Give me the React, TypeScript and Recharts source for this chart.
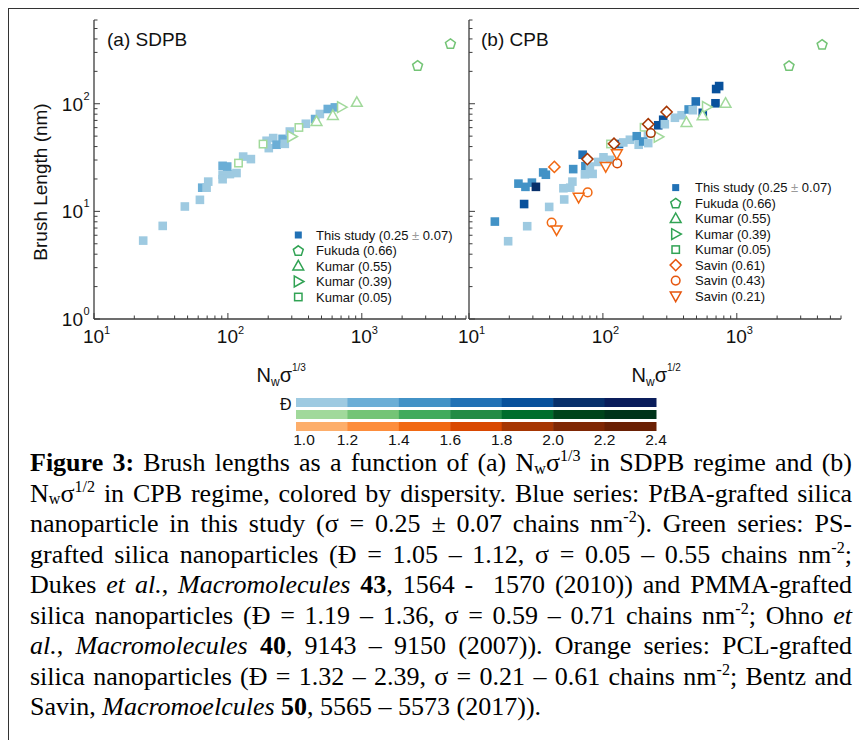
import React from 'react';
import { ScatterChart, Scatter, XAxis, YAxis } from 'recharts';

const SANS = '"Liberation Sans", Arial, sans-serif';
const SERIF = '"Liberation Serif", "Times New Roman", serif';
const AXIS = '#3c3c3c';

// dispersity colour scales (bins 1.0-1.2, ..., 2.2-2.4)
const D_TICKS = ['1.0', '1.2', '1.4', '1.6', '1.8', '2.0', '2.2', '2.4'];
const BLUES = ['#9ecae1', '#6baed6', '#4292c6', '#2171b5', '#08519c', '#08306b', '#0a1d5b'];
const GREENS = ['#a1d99b', '#74c476', '#41ab5d', '#238b45', '#006d2c', '#00441b', '#00341a'];
const ORANGES = ['#fdae6b', '#fd8d3c', '#f16913', '#d94801', '#a63603', '#7f2704', '#6a2004'];

const X_TICKS = [10, 20, 30, 40, 50, 60, 70, 80, 90, 100, 200, 300, 400, 500, 600, 700, 800, 900, 1000, 2000, 3000, 4000, 5000, 6000];
const Y_TICKS = [1, 2, 3, 4, 5, 6, 7, 8, 9, 10, 20, 30, 40, 50, 60, 70, 80, 90, 100, 200, 300, 400, 500, 600];
const MAJOR = [1, 10, 100, 1000];

// [x, brush length (nm), dispersity]
const SDPB_STUDY = [
  [23.3, 5.35, 1.1], [32.6, 7.33, 1.1], [47.7, 11.1, 1.1], [61.8, 12.8, 1.1], [64.3, 16.6, 1.3],
  [69.3, 16.6, 1.1], [71.3, 18.9, 1.1], [91.3, 21.9, 1.1], [91.3, 19.9, 1.1], [103.5, 22.2, 1.1],
  [116, 22.7, 1.1], [91.3, 26.5, 1.3], [98.8, 26.1, 1.3], [130, 32.3, 1.1], [148.5, 30.6, 1.1],
  [194.5, 45.3, 1.1], [202, 38.7, 1.1], [218, 48, 1.1], [231, 41.6, 1.3], [256, 47.2, 1.3],
  [266, 42.4, 1.1], [290, 55.2, 1.1], [382, 65.2, 1.1], [448, 72.1, 1.3], [486, 80.3, 1.1],
  [557, 89.4, 1.3], [629, 92.5, 1.3],
];
const SDPB_KUMAR_005 = [[120, 28.1, 1.1], [183, 42.2, 1.1], [339, 60.2, 1.1]];
const SDPB_KUMAR_039 = [[300, 49.6, 1.1], [706, 93, 1.1]];
const SDPB_KUMAR_055 = [[459, 68.4, 1.1], [608, 77.8, 1.1], [918, 103, 1.1]];
const SDPB_FUKUDA = [[2610, 227, 1.3], [4590, 362, 1.3]];

const CPB_STUDY = [
  [15.6, 8.04, 1.5], [19.6, 5.28, 1.1], [23.4, 18.1, 1.5], [26.4, 16.9, 1.5], [29.5, 18.5, 1.5],
  [31.6, 16.9, 2.1], [25.8, 11.7, 1.9], [27.2, 7.28, 1.1], [35.8, 23.0, 1.5], [37.5, 21.9, 1.5],
  [39.7, 11.0, 1.1], [50.7, 16.4, 1.1], [51.4, 12.9, 1.1], [57.0, 16.6, 1.1], [59.2, 18.9, 1.1],
  [60.0, 24.7, 1.5], [70.6, 33.6, 1.7], [74.0, 26.3, 1.5], [73.4, 22.1, 1.1], [83.8, 22.3, 1.1],
  [80.0, 26.1, 1.1], [92.2, 28.8, 1.1], [101, 31.8, 1.1], [113, 30.1, 1.1], [132, 42.3, 1.7],
  [142, 43.7, 1.1], [159, 46.3, 1.1], [179, 49.9, 1.5], [185, 41.6, 1.1], [200, 44.6, 1.5],
  [218, 43.1, 1.1], [217, 53.7, 1.1], [259, 63.1, 1.9], [282, 71.0, 1.9], [290, 64.5, 1.1],
  [345, 74.1, 1.1], [387, 78.2, 1.1], [437, 88.5, 1.5], [494, 105, 1.7], [469, 87.1, 1.1],
  [557, 82.4, 1.9], [693, 101, 1.9], [701, 137, 1.9], [738, 146, 1.9],
];
const CPB_KUMAR_005 = [[114, 42.3, 1.1], [203, 60.5, 1.1]];
const CPB_KUMAR_039 = [[259, 49.3, 1.1], [594, 93.2, 1.1]];
const CPB_KUMAR_055 = [[421, 67, 1.1], [555, 77.3, 1.1], [824, 101, 1.1]];
const CPB_FUKUDA = [[2455, 226, 1.3], [4335, 356, 1.3]];
const CPB_SAVIN_061 = [[43.4, 25.9, 1.5], [76.6, 30.6, 1.9], [121, 42.5, 1.9], [218, 64.5, 1.9], [299, 83.9, 1.9]];
const CPB_SAVIN_043 = [[41.4, 7.87, 1.5], [76.9, 15.0, 1.5], [128, 27.9, 1.7], [228, 53.4, 1.9]];
const CPB_SAVIN_021 = [[45.1, 6.73, 1.5], [65.9, 13.5, 1.5], [105, 26.1, 1.5], [127, 34.3, 1.5]];

const LEGEND_A = [
  { name: 'This study', extra: '(0.25 ± 0.07)', kind: 'fsquare', color: '#2171b5' },
  { name: 'Fukuda (0.66)', kind: 'pentagon', color: '#31a354' },
  { name: 'Kumar (0.55)', kind: 'up', color: '#31a354' },
  { name: 'Kumar (0.39)', kind: 'right', color: '#31a354' },
  { name: 'Kumar (0.05)', kind: 'square', color: '#31a354' },
];
const LEGEND_B = [
  ...LEGEND_A,
  { name: 'Savin (0.61)', kind: 'diamond', color: '#e6550d' },
  { name: 'Savin (0.43)', kind: 'circle', color: '#e6550d' },
  { name: 'Savin (0.21)', kind: 'down', color: '#e6550d' },
];

const toPts = (arr: number[][]) => arr.map(([x, y, d]) => ({ x, y, d }));
const colorFor = (pal: string[], d: number) =>
  pal[Math.min(6, Math.max(0, Math.floor((d - 1.0) / 0.2 + 1e-9)))];

function poly(cx: number, cy: number, pts: number[][]) {
  return pts.map(([a, b]) => `${cx + a},${cy + b}`).join(' ');
}

function Marker({ kind, cx, cy, color, legend }: any) {
  const sw = 1.5;
  const open = { fill: '#fff', stroke: color, strokeWidth: sw };
  switch (kind) {
    case 'fsquare': {
      const a = legend ? 7 : 8.6;
      return <rect x={cx - a / 2} y={cy - a / 2} width={a} height={a} fill={color} />;
    }
    case 'square': {
      const a = 7.4;
      return <rect x={cx - a / 2} y={cy - a / 2} width={a} height={a} {...open} />;
    }
    case 'circle':
      return <circle cx={cx} cy={cy} r={4.3} {...open} />;
    case 'diamond':
      return <polygon points={poly(cx, cy, [[0, -5.6], [5.6, 0], [0, 5.6], [-5.6, 0]])} {...open} />;
    case 'up':
      return <polygon points={poly(cx, cy, [[0, -5.6], [5.4, 4], [-5.4, 4]])} {...open} />;
    case 'down':
      return <polygon points={poly(cx, cy, [[0, 5.6], [5.4, -4], [-5.4, -4]])} {...open} />;
    case 'right':
      return <polygon points={poly(cx, cy, [[5.6, 0], [-4, 5.4], [-4, -5.4]])} {...open} />;
    case 'pentagon': {
      const r = 5.2;
      const pts = [0, 1, 2, 3, 4].map((k) => {
        const a = (-90 + 72 * k) * Math.PI / 180;
        return [r * Math.cos(a), r * Math.sin(a) + 0.5];
      });
      return <polygon points={poly(cx, cy, pts)} {...open} />;
    }
    default:
      return null;
  }
}

const shapeFn = (kind: string, pal: string[]) => (props: any) => {
  const { cx, cy, payload } = props;
  if (cx == null || cy == null) return <g />;
  return <Marker kind={kind} cx={cx} cy={cy} color={colorFor(pal, payload.d)} />;
};

const isMajor = (v: number) => MAJOR.some((m) => Math.abs(m - v) < 1e-6);
const expOf = (v: number) => Math.round(Math.log10(v));

function XTick({ x, y, payload, dir, labels }: any) {
  const v = payload.value;
  const len = isMajor(v) ? 6 : 3.5;
  return (
    <g>
      <line x1={x} x2={x} y1={y} y2={y + dir * len} stroke={AXIS} strokeWidth={1} />
      {labels && isMajor(v) && v >= 10 && (
        <g fontFamily={SANS} fill="#111">
          <text x={x - 0.5} y={y + 24} fontSize={19} textAnchor="middle">10</text>
          <text x={x + 10} y={y + 15} fontSize={11} textAnchor="start">{expOf(v)}</text>
        </g>
      )}
    </g>
  );
}

function YTick({ x, y, payload, dir, labels }: any) {
  const v = payload.value;
  const len = isMajor(v) ? 6 : 3.5;
  return (
    <g>
      <line x1={x} x2={x + dir * len} y1={y} y2={y} stroke={AXIS} strokeWidth={1} />
      {labels && isMajor(v) && (
        <g fontFamily={SANS} fill="#111">
          <text x={x - 11} y={y + 7} fontSize={19} textAnchor="end">10</text>
          <text x={x - 10.5} y={y - 4} fontSize={11} textAnchor="start">{expOf(v)}</text>
        </g>
      )}
    </g>
  );
}

function Panel({ left, width, yAxisWidth, series, yLabels }: any) {
  const axisLine = { stroke: AXIS, strokeWidth: 1.3 };
  return (
    <div style={{ position: 'absolute', left, top: 0 }}>
      <ScatterChart width={width} height={360} margin={{ top: 20, right: 14, bottom: 0, left: 0 }}>
        <XAxis xAxisId="b" type="number" dataKey="x" scale="log" domain={[10, 6000]} allowDataOverflow
          ticks={X_TICKS} interval={0} tickSize={0} tickMargin={0} tickLine={false} height={41}
          axisLine={axisLine} tick={(p: any) => <XTick {...p} dir={-1} labels />} />
        <XAxis xAxisId="t" orientation="top" type="number" dataKey="x" scale="log" domain={[10, 6000]} allowDataOverflow
          ticks={X_TICKS} interval={0} tickSize={0} tickMargin={0} tickLine={false} height={0}
          axisLine={axisLine} tick={(p: any) => <XTick {...p} dir={1} />} />
        <YAxis yAxisId="l" type="number" dataKey="y" scale="log" domain={[1, 600]} allowDataOverflow
          ticks={Y_TICKS} interval={0} tickSize={0} tickMargin={0} tickLine={false} width={yAxisWidth}
          axisLine={axisLine} tick={(p: any) => <YTick {...p} dir={1} labels={yLabels} />} />
        <YAxis yAxisId="r" orientation="right" type="number" dataKey="y" scale="log" domain={[1, 600]} allowDataOverflow
          ticks={Y_TICKS} interval={0} tickSize={0} tickMargin={0} tickLine={false} width={0}
          axisLine={axisLine} tick={(p: any) => <YTick {...p} dir={-1} />} />
        {series.map((s: any, i: number) => (
          <Scatter key={i} xAxisId="b" yAxisId="l" data={toPts(s.data)} dataKey="y"
            shape={shapeFn(s.kind, s.pal)} isAnimationActive={false} />
        ))}
      </ScatterChart>
    </div>
  );
}

const SERIES_A = [
  { data: SDPB_STUDY, kind: 'fsquare', pal: BLUES },
  { data: SDPB_KUMAR_005, kind: 'square', pal: GREENS },
  { data: SDPB_KUMAR_039, kind: 'right', pal: GREENS },
  { data: SDPB_KUMAR_055, kind: 'up', pal: GREENS },
  { data: SDPB_FUKUDA, kind: 'pentagon', pal: GREENS },
];
const SERIES_B = [
  { data: CPB_STUDY, kind: 'fsquare', pal: BLUES },
  { data: CPB_KUMAR_005, kind: 'square', pal: GREENS },
  { data: CPB_KUMAR_039, kind: 'right', pal: GREENS },
  { data: CPB_KUMAR_055, kind: 'up', pal: GREENS },
  { data: CPB_FUKUDA, kind: 'pentagon', pal: GREENS },
  { data: CPB_SAVIN_061, kind: 'diamond', pal: ORANGES },
  { data: CPB_SAVIN_043, kind: 'circle', pal: ORANGES },
  { data: CPB_SAVIN_021, kind: 'down', pal: ORANGES },
];

function LegendBlock({ items, mx, tx, y0 }: any) {
  return (
    <g fontFamily={SANS} fontSize={13} fill="#111">
      {items.map((it: any, i: number) => {
        const cy = y0 + i * 15.5;
        return (
          <g key={i}>
            <Marker kind={it.kind} cx={mx} cy={cy} color={it.color} legend />
            <text x={tx} y={cy + 4.6}>
              {it.name}
              {it.extra && (
                <>
                  {' (0.25 '}
                  <tspan fill="#9a9a9a">±</tspan>
                  {' 0.07)'}
                </>
              )}
            </text>
          </g>
        );
      })}
    </g>
  );
}

const sup: React.CSSProperties = { fontSize: '0.62em', position: 'relative', top: '-0.62em', lineHeight: 0 };
const sub: React.CSSProperties = { fontSize: '0.62em', position: 'relative', top: '0.15em', lineHeight: 0 };

const CAPTION: React.ReactNode[] = [
  <><b>Figure 3:</b> Brush lengths as a function of (a) N<span style={sub}>w</span>σ<span style={sup}>1/3</span> in SDPB regime and (b)</>,
  <>N<span style={sub}>w</span>σ<span style={sup}>1/2</span> in CPB regime, colored by dispersity. Blue series: P<i>t</i>BA-grafted silica</>,
  <>nanoparticle in this study (σ = 0.25 ± 0.07 chains nm<span style={sup}>-2</span>). Green series: PS-</>,
  <>grafted silica nanoparticles (Đ = 1.05 – 1.12, σ = 0.05 – 0.55 chains nm<span style={sup}>-2</span>;</>,
  <>Dukes <i>et al.</i>, <i>Macromolecules</i> <b>43</b>, 1564 - &nbsp;1570 (2010)) and PMMA-grafted</>,
  <>silica nanoparticles (Đ = 1.19 – 1.36, σ = 0.59 – 0.71 chains nm<span style={sup}>-2</span>; Ohno <i>et</i></>,
  <><i>al.</i>, <i>Macromolecules</i> <b>40</b>, 9143 – 9150 (2007)). Orange series: PCL-grafted</>,
  <>silica nanoparticles (Đ = 1.32 – 2.39, σ = 0.21 – 0.61 chains nm<span style={sup}>-2</span>; Bentz and</>,
  <>Savin, <i>Macromoelcules</i> <b>50</b>, 5565 – 5573 (2017)).</>,
];

export default function App() {
  const cbX0 = 296;
  const cbW = 360 / 7;
  const rows = [BLUES, GREENS, ORANGES];
  return (
    <div style={{ position: 'absolute', left: 0, top: 0, width: 859, height: 740, background: '#fff', overflow: 'hidden' }}>
      {/* document frame */}
      <div style={{ position: 'absolute', left: 8, top: 8, width: 900, height: 800, borderLeft: '1.6px solid #333', borderTop: '1.6px solid #333' }} />

      <Panel left={0} width={480} yAxisWidth={94} series={SERIES_A} yLabels />
      <Panel left={440} width={415} yAxisWidth={29} series={SERIES_B} yLabels={false} />

      <svg width={859} height={740} style={{ position: 'absolute', left: 0, top: 0, pointerEvents: 'none' }}>
        <g fontFamily={SANS} fill="#111">
          <text x={107} y={46} fontSize={19}>(a) SDPB</text>
          <text x={481} y={46} fontSize={19}>(b) CPB</text>
          <text transform="translate(47,182) rotate(-90)" fontSize={19} textAnchor="middle">Brush Length (nm)</text>
        </g>
        <LegendBlock items={LEGEND_A} mx={298.3} tx={316} y0={235} />
        <LegendBlock items={LEGEND_B} mx={675.7} tx={695} y0={187.6} />

        {/* dispersity colour bar */}
        <g fontFamily={SANS} fill="#111">
          <text x={256.5} y={381.5} fontSize={20}>
            N<tspan fontSize={12} dy={4}>w</tspan><tspan dy={-4}>σ</tspan><tspan fontSize={10} dy={-11}>1/3</tspan>
          </text>
          <text x={631.5} y={381.5} fontSize={20}>
            N<tspan fontSize={12} dy={4}>w</tspan><tspan dy={-4}>σ</tspan><tspan fontSize={10} dy={-11}>1/2</tspan>
          </text>
          <text x={291.5} y={409.5} fontSize={16} textAnchor="end">Đ</text>
          {rows.map((pal, r) =>
            pal.map((c, i) => (
              <rect key={`${r}-${i}`} x={cbX0 + i * cbW} y={398 + r * 12} width={cbW + 0.5} height={9} fill={c} />
            ))
          )}
          {D_TICKS.map((t, i) => (
            <text key={t} x={i === 0 ? 304 : cbX0 + i * cbW} y={445.3} fontSize={15.5} textAnchor="middle">{t}</text>
          ))}
        </g>
      </svg>

      {/* caption */}
      <div style={{ position: 'absolute', left: 30, top: 448.4, width: 822, fontFamily: SERIF, fontSize: 26, color: '#000' }}>
        {CAPTION.map((line, i) => (
          <div key={i} style={{
            height: 30.5, lineHeight: '30.5px', whiteSpace: 'nowrap',
            textAlign: 'justify', textAlignLast: i === CAPTION.length - 1 ? 'left' : 'justify',
          }}>{line}</div>
        ))}
      </div>
    </div>
  );
}
